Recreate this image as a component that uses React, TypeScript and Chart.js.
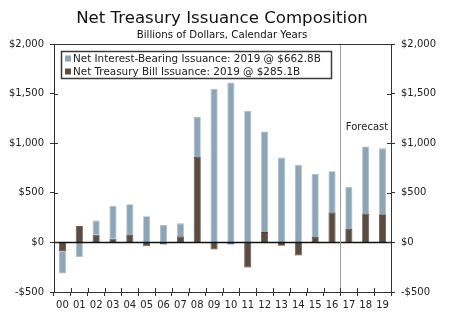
import React, { useEffect, useRef } from "react";
import { Chart, registerables } from "chart.js";

Chart.register(...registerables);

const years = ["00", "01", "02", "03", "04", "05", "06", "07", "08", "09", "10", "11", "12", "13", "14", "15", "16", "17", "18", "19"];
const interestBearing = [-225, -148, 145, 333, 310, 263, 175, 131, 401, 1549, 1613, 1327, 1014, 855, 781, 636, 414, 427, 680, 663];
const billIssuance = [-88, 165, 77, 37, 74, -40, -20, 61, 862, -71, -20, -253, 104, -34, -131, 54, 303, 135, 286, 285];
const yMin = -500;
const yMax = 2000;
const yStep = 500;
const titleText = "Net Treasury Issuance Composition";
const subtitleText = "Billions of Dollars, Calendar Years";
const legendLabels = ["Net Interest-Bearing Issuance: 2019 @ $662.8B", "Net Treasury Bill Issuance: 2019 @ $285.1B"];
const forecastLabel = "Forecast";
const forecastStartIndex = 17;

const BLUE = "#8CA6B8";
const BLUE_EDGE = "#A6BBCA";
const BROWN = "#5C4B3F";
const BROWN_EDGE = "#4E3F34";
const FONT = "'DejaVu Sans', Verdana, sans-serif";
const AXIS = "#333333";

const fmt = (v: number) => {
  const s = Math.abs(v).toLocaleString("en-US");
  return v < 0 ? "-$" + s : "$" + s;
};

const decor = {
  id: "decor",
  afterDatasetsDraw(chart: any) {
    const { ctx, chartArea } = chart;
    const { left, right, top, bottom } = chartArea;
    const x = chart.scales.x;
    const y = chart.scales.y;
    ctx.save();
    // zero line
    const y0 = Math.round(y.getPixelForValue(0)) + 0.5;
    ctx.strokeStyle = "#111";
    ctx.lineWidth = 1.5;
    ctx.beginPath();
    ctx.moveTo(left, y0);
    ctx.lineTo(right, y0);
    ctx.stroke();
    // forecast line
    const fx = Math.round((x.getPixelForValue(forecastStartIndex - 1) + x.getPixelForValue(forecastStartIndex)) / 2) + 0.5;
    ctx.strokeStyle = "#9a9a9a";
    ctx.lineWidth = 1;
    ctx.beginPath();
    ctx.moveTo(fx, top);
    ctx.lineTo(fx, bottom);
    ctx.stroke();
    // top border
    ctx.strokeStyle = AXIS;
    ctx.beginPath();
    ctx.moveTo(left - 4, Math.round(top) + 0.5);
    ctx.lineTo(right + 4, Math.round(top) + 0.5);
    ctx.stroke();
    // inner tick parts (crossing ticks)
    ctx.beginPath();
    for (let v = yMin; v <= yMax; v += yStep) {
      const py = Math.round(y.getPixelForValue(v)) + 0.5;
      ctx.moveTo(left, py);
      ctx.lineTo(left + 4, py);
      ctx.moveTo(right, py);
      ctx.lineTo(right - 4, py);
    }
    for (let i = 0; i <= years.length; i++) {
      const px = Math.round(left + ((right - left) * i) / years.length) + 0.5;
      ctx.moveTo(px, bottom);
      ctx.lineTo(px, bottom - 4);
    }
    ctx.stroke();
    // forecast text
    ctx.fillStyle = "#222";
    ctx.font = `10px ${FONT}`;
    ctx.textAlign = "center";
    ctx.textBaseline = "middle";
    ctx.fillText(forecastLabel, 367, 127);
    // legend
    const lx = 61, ly = 51, lw = 270, lh = 27;
    ctx.fillStyle = "#ffffff";
    ctx.fillRect(lx, ly, lw, lh);
    ctx.strokeStyle = "#3a3a3a";
    ctx.lineWidth = 1.5;
    ctx.strokeRect(lx + 0.5, ly + 0.5, lw, lh);
    const colors = [BLUE, BROWN];
    legendLabels.forEach((t, i) => {
      const cy = ly + 7.5 + i * 13;
      ctx.fillStyle = colors[i];
      ctx.fillRect(lx + 4, cy - 3, 6, 6);
      ctx.fillStyle = "#222";
      ctx.font = `10.4px ${FONT}`;
      ctx.textAlign = "left";
      ctx.textBaseline = "middle";
      ctx.fillText(t, lx + 12, cy + 0.5);
    });
    // titles
    ctx.fillStyle = "#111";
    ctx.textAlign = "center";
    ctx.font = `16.6px ${FONT}`;
    ctx.fillText(titleText, 222, 19);
    ctx.font = `10.2px ${FONT}`;
    ctx.fillText(subtitleText, 222, 35);
    ctx.restore();
  },
};

export default function App() {
  const ref = useRef<HTMLCanvasElement | null>(null);
  useEffect(() => {
    document.body.style.margin = "0";
    const canvas = ref.current!;
    const yCommon = {
      min: yMin,
      max: yMax,
      grid: { display: true, drawOnChartArea: false, drawTicks: true, tickLength: 4, color: AXIS },
      border: { display: true, color: AXIS, width: 1 },
      ticks: {
        stepSize: yStep,
        padding: 6,
        color: "#222",
        font: { family: FONT, size: 10 },
        callback: (v: any) => fmt(Number(v)),
      },
    };
    const chart = new Chart(canvas, {
      type: "bar",
      data: {
        labels: years,
        datasets: [
          {
            label: legendLabels[1],
            data: billIssuance,
            backgroundColor: BROWN,
            borderColor: BROWN_EDGE,
            borderWidth: 0.8,
            yAxisID: "y",
          },
          {
            label: legendLabels[0],
            data: interestBearing,
            backgroundColor: BLUE,
            borderColor: BLUE_EDGE,
            borderWidth: 0.8,
            yAxisID: "y",
          },
        ],
      },
      options: {
        animation: false,
        responsive: false,
        devicePixelRatio: 1,
        layout: { padding: { top: 44, left: 0, right: 0, bottom: 0 } },
        datasets: { bar: { barPercentage: 0.42, categoryPercentage: 1 } },
        plugins: {
          legend: { display: false },
          tooltip: { enabled: false },
          title: { display: false },
        },
        scales: {
          x: {
            stacked: true,
            offset: true,
            grid: { display: true, offset: true, drawOnChartArea: false, drawTicks: true, tickLength: 4, color: AXIS },
            border: { display: true, color: AXIS, width: 1 },
            ticks: { color: "#222", font: { family: FONT, size: 10 }, padding: 3, maxRotation: 0, autoSkip: false },
            afterFit: (a: any) => { a.height = 29; },
          },
          y: { ...yCommon, stacked: true, position: "left", afterFit: (a: any) => { a.width = 54; } },
          y2: { ...yCommon, position: "right", afterFit: (a: any) => { a.width = 59; } },
        },
      } as any,
      plugins: [decor],
    });
    return () => chart.destroy();
  }, []);
  return (
    <div style={{ width: 450, height: 321, position: "relative", background: "#fff" }}>
      <canvas ref={ref} width={450} height={321} style={{ display: "block" }} />
    </div>
  );
}
